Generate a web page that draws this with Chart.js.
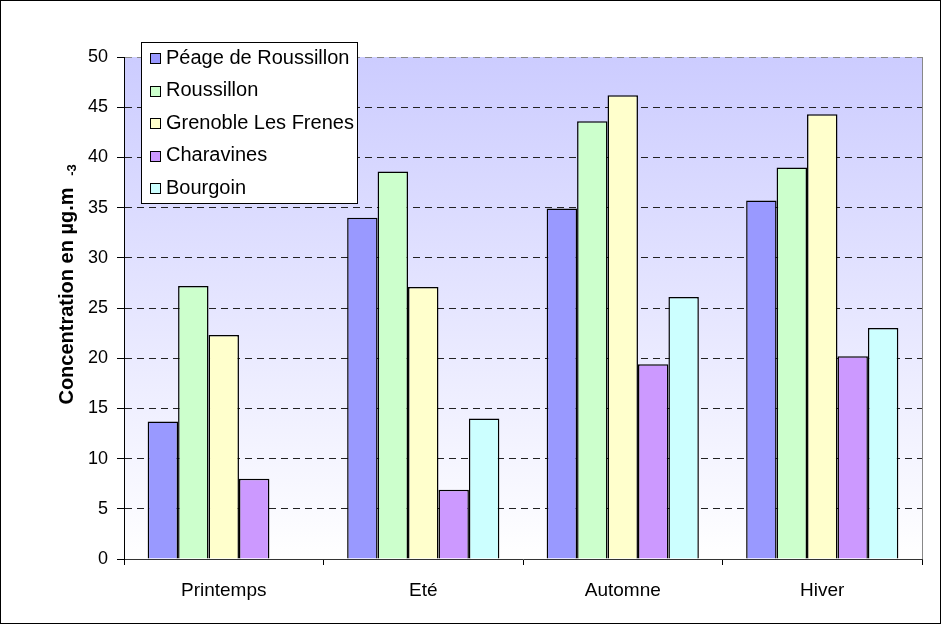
<!DOCTYPE html>
<html>
<head>
<meta charset="utf-8">
<script src="https://cdn.jsdelivr.net/npm/chart.js@4/dist/chart.umd.min.js"></script>
<style>
  html, body { margin: 0; padding: 0; background: #fff; }
  canvas { display: block; }
</style>
</head>
<body>
<canvas id="c" width="941" height="624"></canvas>
<script>
const categories = ['Printemps', 'Eté', 'Automne', 'Hiver'];
const seriesNames = ['Péage de Roussillon', 'Roussillon', 'Grenoble Les Frenes', 'Charavines', 'Bourgoin'];
const peage = [13.7, 34.0, 34.9, 35.7];
const roussillon = [27.2, 38.6, 43.6, 39.0];
const grenoble = [22.3, 27.1, 46.2, 44.3];
const charavines = [8.0, 6.9, 19.4, 20.2];
const bourgoin = [null, 14.0, 26.1, 23.0];
const yTicks = [0, 5, 10, 15, 20, 25, 30, 35, 40, 45, 50];
const yTitle = 'Concentration en µg.m';
const yTitleSup = '-3';

const colors = ['#9999FF', '#CCFFCC', '#FFFFCC', '#CC99FF', '#CCFFFF'];
const seriesValues = [peage, roussillon, grenoble, charavines, bourgoin];

const FONT = '"Liberation Sans", Arial, sans-serif';

const bgPlugin = {
  id: 'bg',
  beforeDraw(chart) {
    const { ctx, chartArea: a } = chart;
    ctx.save();
    ctx.fillStyle = '#fff';
    ctx.fillRect(0, 0, chart.width, chart.height);
    const g = ctx.createLinearGradient(0, a.top, 0, a.bottom);
    g.addColorStop(0, '#CCCCFF');
    g.addColorStop(1, '#FFFFFF');
    ctx.fillStyle = g;
    ctx.fillRect(a.left, a.top, a.right - a.left, a.bottom - a.top);
    ctx.restore();
  },
  afterDraw(chart) {
    const { ctx, chartArea: a } = chart;
    ctx.save();
    // plot right border (grey)
    ctx.strokeStyle = '#888';
    ctx.lineWidth = 1;
    ctx.beginPath();
    ctx.moveTo(a.right + 0.5, a.top);
    ctx.lineTo(a.right + 0.5, a.bottom);
    ctx.stroke();
    // outer frame
    ctx.strokeStyle = '#000';
    ctx.strokeRect(0.5, 0.5, chart.width - 1, chart.height - 1);

    // y-axis title
    ctx.fillStyle = '#000';
    ctx.font = 'bold 20px ' + FONT;
    ctx.translate(67, 296);
    ctx.rotate(-Math.PI / 2);
    ctx.textAlign = 'center';
    ctx.textBaseline = 'middle';
    ctx.fillText(yTitle, 0, 0);
    ctx.setTransform(1, 0, 0, 1, 0, 0);
    ctx.font = 'bold 13px ' + FONT;
    ctx.translate(72, 170);
    ctx.rotate(-Math.PI / 2);
    ctx.fillText(yTitleSup, 0, 0);
    ctx.setTransform(1, 0, 0, 1, 0, 0);

    // legend
    const lx = 141, ly = 42, lw = 216, lh = 161;
    ctx.fillStyle = '#fff';
    ctx.fillRect(lx, ly, lw, lh);
    ctx.strokeStyle = '#000';
    ctx.lineWidth = 1;
    ctx.strokeRect(lx + 0.5, ly + 0.5, lw, lh);
    ctx.font = '20px ' + FONT;
    ctx.textAlign = 'left';
    ctx.textBaseline = 'middle';
    chart.data.datasets.forEach((ds, i) => {
      const cy = 58 + i * 32.5;
      ctx.fillStyle = ds.backgroundColor;
      ctx.fillRect(150, Math.round(cy - 5), 11, 11);
      ctx.strokeStyle = '#000';
      ctx.strokeRect(150.5, Math.round(cy - 5) + 0.5, 10, 10);
      ctx.fillStyle = '#000';
      ctx.fillText(ds.label, 166, cy);
    });
    ctx.restore();
  }
};

new Chart(document.getElementById('c'), {
  type: 'bar',
  data: {
    labels: categories,
    datasets: seriesNames.map((name, i) => ({
      label: name,
      data: seriesValues[i],
      backgroundColor: colors[i],
      borderColor: '#000',
      borderWidth: 1.5,
      categoryPercentage: 0.763,
      barPercentage: 1.0
    }))
  },
  options: {
    responsive: false,
    animation: false,
    devicePixelRatio: 1,
    layout: { padding: { left: 0, top: 57, right: 19, bottom: 0 } },
    plugins: { legend: { display: false }, tooltip: { enabled: false } },
    scales: {
      x: {
        offset: true,
        grid: { display: true, drawOnChartArea: false, offset: true, drawTicks: true, tickLength: 6, color: '#000', tickColor: '#000' },
        border: { display: true, color: '#333', width: 1 },
        ticks: { color: '#000', font: { family: FONT, size: 19 }, padding: 14 },
        afterFit(s) { s.height = 65; }
      },
      y: {
        min: 0, max: 50,
        afterBuildTicks(s) { s.ticks = yTicks.map(v => ({ value: v })); },
        grid: {
          color: (c) => (c.tick && c.tick.value === 0) ? 'rgba(0,0,0,0)' : (c.tick && c.tick.value === 50 ? '#888' : '#222'),
          tickColor: '#000',
          lineWidth: 1,
          tickLength: 7
        },
        border: { display: true, color: '#000', width: 1, dash: [7, 5] },
        ticks: { color: '#000', font: { family: FONT, size: 18 }, padding: 9 },
        afterFit(s) { s.width = 124; }
      }
    }
  },
  plugins: [bgPlugin]
});
</script>
</body>
</html>
